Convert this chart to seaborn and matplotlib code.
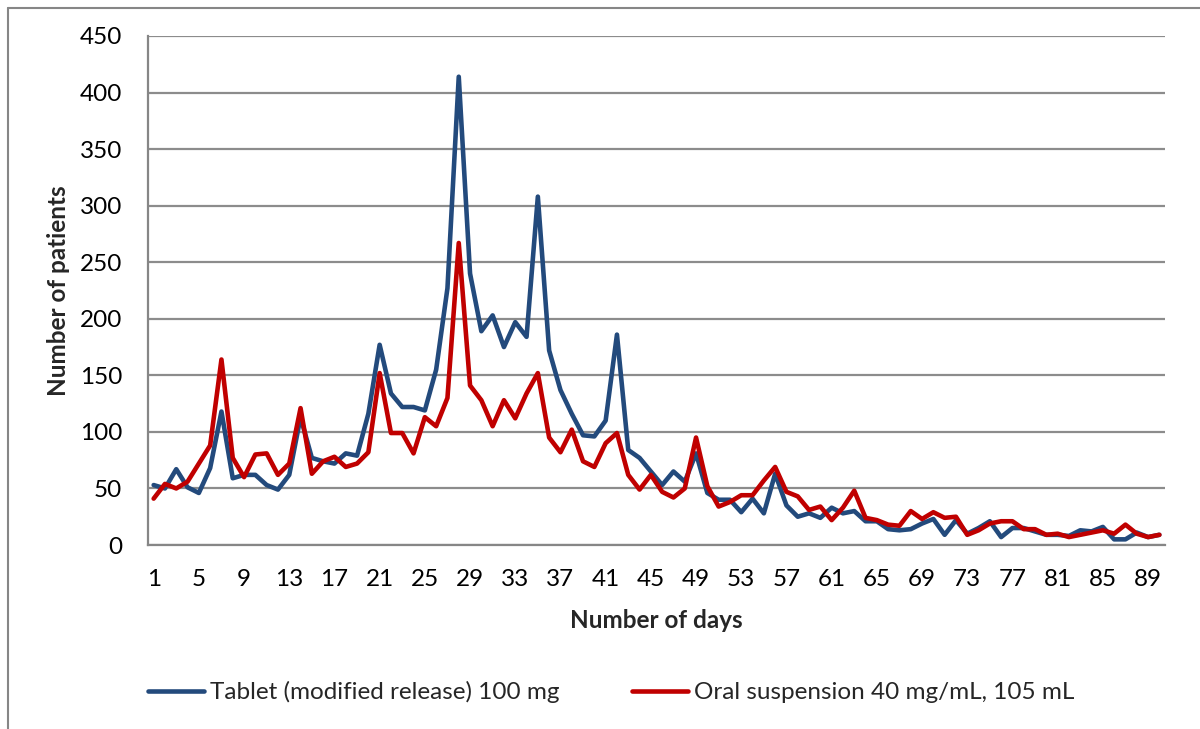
import matplotlib
matplotlib.use("Agg")
import matplotlib.pyplot as plt
import seaborn as sns
import pandas as pd
import numpy as np
from matplotlib.lines import Line2D

days = list(range(1, 91))
tablet = [53, 50, 67, 51, 46, 68, 118, 59, 62, 62,
          53, 49, 62, 113, 77, 74, 72, 81, 79, 116,
          177, 134, 122, 122, 119, 155, 227, 414, 240, 189,
          203, 175, 197, 184, 308, 172, 137, 116, 97, 96,
          110, 186, 84, 77, 65, 53, 65, 56, 81, 46,
          40, 40, 29, 41, 28, 63, 35, 25, 28, 24,
          33, 28, 30, 21, 21, 14, 13, 14, 19, 23,
          9, 22, 10, 15, 21, 7, 15, 15, 12, 9,
          9, 8, 13, 12, 16, 5, 5, 11, 7, 9]
oral = [41, 54, 50, 56, 72, 88, 164, 77, 60, 80,
        81, 62, 72, 121, 63, 74, 78, 69, 72, 82,
        152, 99, 99, 81, 113, 105, 130, 267, 141, 128,
        105, 128, 112, 134, 152, 95, 82, 102, 74, 69,
        90, 99, 62, 49, 62, 47, 42, 50, 95, 52,
        34, 38, 44, 44, 57, 69, 47, 43, 31, 34,
        22, 33, 48, 24, 22, 18, 17, 30, 23, 29,
        24, 25, 9, 13, 19, 21, 21, 14, 14, 9,
        10, 7, 9, 11, 13, 10, 18, 10, 7, 9]
series_names = ["Tablet (modified release) 100 mg", "Oral suspension 40 mg/mL, 105 mL"]
colors = ["#234A7C", "#C00000"]
y_ticks = list(range(0, 451, 50))
x_tick_labels = list(range(1, 90, 4))

df = pd.DataFrame({
    "day": days * 2,
    "patients": tablet + oral,
    "series": [series_names[0]] * len(days) + [series_names[1]] * len(days),
})

sns.set_theme(style="white")
plt.rcParams["font.family"] = ["Lato", "DejaVu Sans"]
FS = 17.5

fig = plt.figure(figsize=(12, 7.29), dpi=100)
ax = fig.add_axes([148 / 1200, 1 - 545 / 729, (1165 - 148) / 1200, (545 - 36) / 729])

sns.lineplot(data=df, x="day", y="patients", hue="series", palette=colors,
             linewidth=3.3, ax=ax, legend=True)

ax.set_xlim(0.5, 90.5)
ax.set_ylim(0, 450)
ax.set_yticks(y_ticks)
ax.set_xticks(x_tick_labels)
ax.set_xticklabels([str(v) for v in x_tick_labels])
ax.set_xticks(np.arange(0.5, 91, 1), minor=True)
ax.tick_params(axis="x", which="major", length=0, labelsize=FS, pad=17, colors="black")
ax.tick_params(axis="x", which="minor", length=6, width=1.3, color="#868686", direction="out")
ax.tick_params(axis="y", which="major", length=7.5, width=1.3, color="#868686", direction="out",
               labelsize=FS, pad=11, labelcolor="black")
ax.yaxis.grid(True, color="#8C8C8C", linewidth=1.6)
ax.set_axisbelow(True)
for s in ["top", "right"]:
    ax.spines[s].set_visible(False)
for s in ["left", "bottom"]:
    ax.spines[s].set_color("#868686")
    ax.spines[s].set_linewidth(1.6)

ax.set_xlabel("Number of days", fontsize=FS, fontweight="bold", labelpad=14)
ax.set_ylabel("Number of patients", fontsize=FS, fontweight="bold", labelpad=7)

handles, labels = ax.get_legend_handles_labels()
ax.get_legend().remove()
fig.legend(handles, labels, loc="center left", bbox_to_anchor=(148 / 1200, 1 - 692 / 729), ncol=2,
           frameon=False, fontsize=FS, handlelength=2.3, handletextpad=0.25,
           columnspacing=3.0, borderaxespad=0, borderpad=0)

fig.add_artist(Line2D([7.5 / 1200, 7.5 / 1200], [0, 1 - 7.5 / 729], transform=fig.transFigure,
                      color="#868686", linewidth=1.5))
fig.add_artist(Line2D([7.5 / 1200, 1], [1 - 7.5 / 729, 1 - 7.5 / 729], transform=fig.transFigure,
                      color="#868686", linewidth=1.5))

fig.savefig("out.png", dpi=100)
